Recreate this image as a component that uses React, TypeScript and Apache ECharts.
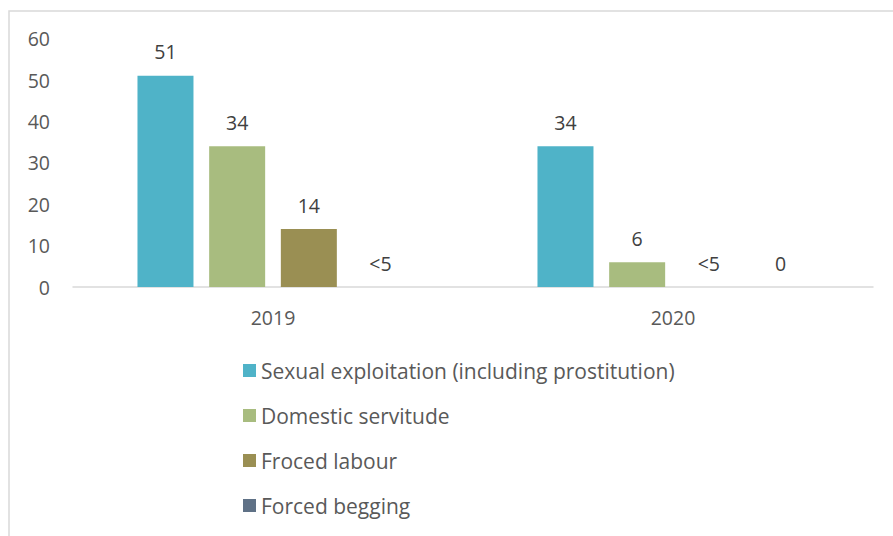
import React, { useEffect, useRef } from "react";
import * as echarts from "echarts";

const years = ["2019", "2020"];
const seriesNames = [
  "Sexual exploitation (including prostitution)",
  "Domestic servitude",
  "Froced labour",
  "Forced begging",
];
const sexualExploitation = [51, 34];
const domesticServitude = [34, 6];
const forcedLabour = [14, 0];
const forcedBegging = [0, 0];
const sexualLabels = ["51", "34"];
const domesticLabels = ["34", "6"];
const labourLabels = ["14", "<5"];
const beggingLabels = ["<5", "0"];
const colors = ["#4FB3C8", "#A8BC7F", "#9A8F53", "#5F7186"];
const yTicks = [0, 60, 10];

export default function App() {
  const ref = useRef<HTMLDivElement>(null);
  useEffect(() => {
    if (!ref.current) return;
    const chart = echarts.init(ref.current, undefined, { renderer: "svg" });
    const values = [sexualExploitation, domesticServitude, forcedLabour, forcedBegging];
    const labels = [sexualLabels, domesticLabels, labourLabels, beggingLabels];
    const font = "'Open Sans', 'Noto Sans', sans-serif";
    chart.setOption({
      animation: false,
      color: colors,
      textStyle: { fontFamily: font },
      graphic: [
        {
          type: "rect",
          shape: { x: 9, y: 11, width: 1000, height: 1000 },
          style: { fill: "none", stroke: "#D9D9D9", lineWidth: 1.5 },
          silent: true,
        },
      ],
      grid: { left: 73, right: 20, top: 38.6, bottom: 249, containLabel: false },
      legend: {
        orient: "vertical",
        left: 238,
        top: 355,
        itemWidth: 13,
        itemHeight: 13,
        itemGap: 24,
        icon: "rect",
        data: seriesNames,
        textStyle: { fontSize: 21, color: "#595959", fontFamily: font },
      },
      xAxis: {
        type: "category",
        data: years,
        axisLine: { show: true, lineStyle: { color: "#D9D9D9", width: 1.5 } },
        axisTick: { show: false },
        axisLabel: { color: "#595959", fontSize: 19.5, margin: 20, fontFamily: font },
      },
      yAxis: {
        type: "value",
        min: yTicks[0],
        max: yTicks[1],
        interval: yTicks[2],
        splitLine: { show: false },
        axisLine: { show: false },
        axisTick: { show: false },
        axisLabel: { color: "#595959", fontSize: 19.5, margin: 23, fontFamily: font },
      },
      series: seriesNames.map((name, i) => ({
        name,
        type: "bar",
        data: values[i],
        barWidth: "14%",
        barGap: "28%",
        itemStyle: { color: colors[i] },
        label: {
          show: true,
          position: "top",
          distance: 14,
          color: "#404040",
          fontSize: 19.5,
          fontFamily: font,
          formatter: (p: any) => labels[i][p.dataIndex],
        },
      })),
    });
    return () => chart.dispose();
  }, []);
  return (
    <div
      ref={ref}
      style={{ position: "fixed", left: 0, top: 0, width: 893, height: 536, background: "#fff" }}
    />
  );
}
